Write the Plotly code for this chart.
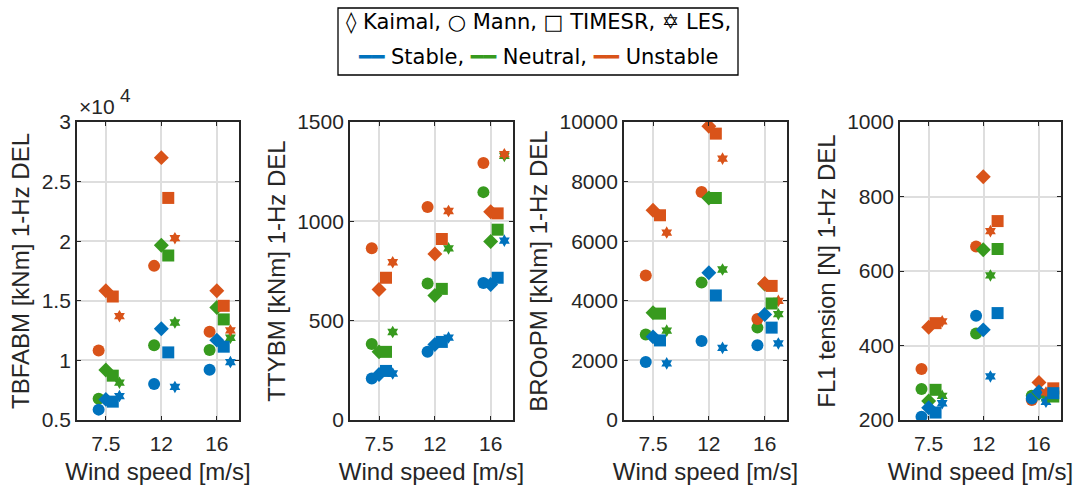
import plotly.graph_objects as go

# ---------------- data ----------------
WIND_SPEEDS = ["7.5", "12", "16"]
MODELS = ["Kaimal", "Mann", "TIMESR", "LES"]
STABILITIES = ["Stable", "Neutral", "Unstable"]

# TBFABM [kNm] 1-Hz DEL
TBFABM_STABLE = {"Kaimal": [6730, 12650, 11700], "Mann": [5870, 8020, 9220],
                 "TIMESR": [6540, 10670, 11150], "LES": [7010, 7770, 9860]}
TBFABM_NEUTRAL = {"Kaimal": [9190, 19660, 14440], "Mann": [6790, 11280, 10870],
                  "TIMESR": [8720, 18800, 13440], "LES": [8130, 13180, 11900]}
TBFABM_UNSTABLE = {"Kaimal": [15840, 27010, 15840], "Mann": [10840, 17930, 12400],
                   "TIMESR": [15360, 23630, 14580], "LES": [13710, 20250, 12510]}

# TTYBM [kNm] 1-Hz DEL
TTYBM_STABLE = {"Kaimal": [229, 380, 682], "Mann": [209, 343, 690],
                "TIMESR": [247, 393, 716], "LES": [234, 415, 903]}
TTYBM_NEUTRAL = {"Kaimal": [343, 627, 898], "Mann": [383, 687, 1147],
                 "TIMESR": [343, 660, 958], "LES": [443, 864, 1329]}
TTYBM_UNSTABLE = {"Kaimal": [657, 836, 1048], "Mann": [864, 1072, 1294],
                  "TIMESR": [716, 911, 1040], "LES": [794, 1052, 1338]}

# BROoPM [kNm] 1-Hz DEL
BROOPM_STABLE = {"Kaimal": [2790, 4940, 3540], "Mann": [1950, 2650, 2510],
                 "TIMESR": [2670, 4180, 3100], "LES": [1900, 2420, 2570]}
BROOPM_NEUTRAL = {"Kaimal": [3600, 7450, 4560], "Mann": [2870, 4610, 3100],
                  "TIMESR": [3570, 7450, 3910], "LES": [3000, 5050, 3550]}
BROOPM_UNSTABLE = {"Kaimal": [7040, 9860, 4580], "Mann": [4850, 7650, 3390],
                   "TIMESR": [6870, 9610, 4500], "LES": [6290, 8770, 4000]}

# FL1 tension [N] 1-Hz DEL
FL1_STABLE = {"Kaimal": [233, 442, 276], "Mann": [209, 480, 258],
              "TIMESR": [220, 487, 272], "LES": [245, 317, 249]}
FL1_NEUTRAL = {"Kaimal": [251, 657, 272], "Mann": [283, 432, 265],
               "TIMESR": [281, 659, 263], "LES": [265, 588, 258]}
FL1_UNSTABLE = {"Kaimal": [449, 853, 301], "Mann": [337, 666, 254],
                "TIMESR": [460, 734, 285], "LES": [465, 707, 274]}

Y_TITLES = ["TBFABM [kNm] 1-Hz DEL", "TTYBM [kNm] 1-Hz DEL",
            "BROoPM [kNm] 1-Hz DEL", "FL1 tension [N] 1-Hz DEL"]
Y_TICKS_1 = [5000, 10000, 15000, 20000, 25000, 30000]
Y_TICKTEXT_1 = ["0.5", "1", "1.5", "2", "2.5", "3"]
Y_TICKS_2 = [0, 500, 1000, 1500]
Y_TICKS_3 = [0, 2000, 4000, 6000, 8000, 10000]
Y_TICKS_4 = [200, 400, 600, 800, 1000]

# ---------------- styling ----------------
COLORS = {"Stable": "#0072BD", "Neutral": "#379A1E", "Unstable": "#D95319"}
SYMBOLS = {"Kaimal": "diamond", "Mann": "circle", "TIMESR": "square", "LES": "hexagram"}
SIZES = {"Kaimal": 11.5, "Mann": 12, "TIMESR": 12, "LES": 9.5}
OFF_DEFAULT = {"Mann": -0.13, "Kaimal": 0.0, "TIMESR": 0.125, "LES": 0.245}
OFF_FL1 = [OFF_DEFAULT,
           {"Mann": -0.14, "Kaimal": -0.01, "TIMESR": 0.25, "LES": 0.12},
           {"Mann": -0.13, "Kaimal": 0.0, "TIMESR": 0.26, "LES": 0.127}]

panels = [
    dict(data={"Stable": TBFABM_STABLE, "Neutral": TBFABM_NEUTRAL, "Unstable": TBFABM_UNSTABLE},
         yr=[5000, 30000], tv=Y_TICKS_1, tt=Y_TICKTEXT_1, offs=[OFF_DEFAULT] * 3),
    dict(data={"Stable": TTYBM_STABLE, "Neutral": TTYBM_NEUTRAL, "Unstable": TTYBM_UNSTABLE},
         yr=[0, 1500], tv=Y_TICKS_2, tt=[str(v) for v in Y_TICKS_2], offs=[OFF_DEFAULT] * 3),
    dict(data={"Stable": BROOPM_STABLE, "Neutral": BROOPM_NEUTRAL, "Unstable": BROOPM_UNSTABLE},
         yr=[0, 10000], tv=Y_TICKS_3, tt=[str(v) for v in Y_TICKS_3], offs=[OFF_DEFAULT] * 3),
    dict(data={"Stable": FL1_STABLE, "Neutral": FL1_NEUTRAL, "Unstable": FL1_UNSTABLE},
         yr=[200, 1000], tv=Y_TICKS_4, tt=[str(v) for v in Y_TICKS_4], offs=OFF_FL1),
]

W, H = 1078, 487
X_DOMAINS_PX = [(77, 239), (350, 513), (624, 787), (900, 1061)]
Y_DOMAIN = [1 - 420 / H, 1 - 122 / H]

TXT = "#262626"
FONT = "Liberation Sans, Arial, Helvetica, sans-serif"

fig = go.Figure()
PLOT_ORDER_MODELS = ["Mann", "Kaimal", "LES", "TIMESR"]
PLOT_ORDER_STAB = ["Neutral", "Unstable", "Stable"]

for i, p in enumerate(panels):
    ax = "" if i == 0 else str(i + 1)
    for m in PLOT_ORDER_MODELS:
        for s in PLOT_ORDER_STAB:
            vals = p["data"][s][m]
            xs = [k + 1 + p["offs"][k][m] for k in range(len(WIND_SPEEDS))]
            fig.add_trace(go.Scatter(
                x=xs, y=vals, mode="markers", name=f"{m}, {s}",
                xaxis="x" + ax, yaxis="y" + ax, showlegend=False,
                marker=dict(symbol=SYMBOLS[m], size=SIZES[m], color=COLORS[s],
                            line=dict(width=0)),
                hovertemplate=f"{m}, {s}<br>%{{y}}<extra></extra>"))
    x0, x1 = X_DOMAINS_PX[i]
    common = dict(showline=True, linecolor=TXT, linewidth=1.8, mirror="ticks",
                  ticks="inside", ticklen=4, tickwidth=1.4, tickcolor=TXT,
                  showgrid=True, gridcolor="#DEDEDE", gridwidth=1.6, zeroline=False,
                  automargin=False,
                  tickfont=dict(family=FONT, size=21, color=TXT))
    fig.update_layout(**{
        "xaxis" + ax: dict(common, domain=[x0 / W, x1 / W], anchor="y" + ax,
                           range=[0.48, 3.4], tickvals=[1, 2, 3], ticktext=WIND_SPEEDS,
                           ticklabelstandoff=4,
                           title=dict(text="Wind speed [m/s]", standoff=9,
                                      font=dict(family=FONT, size=24, color=TXT))),
        "yaxis" + ax: dict(common, domain=Y_DOMAIN, anchor="x" + ax,
                           range=p["yr"], tickvals=p["tv"], ticktext=p["tt"],
                           title=dict(text=Y_TITLES[i], standoff=5,
                                      font=dict(family=FONT, size=24, color=TXT))),
    })

# x10^4 multiplier of first panel (MATLAB style: exponent almost full size)
fig.add_annotation(xref="paper", yref="paper", x=77 / W, y=1 - 120 / H,
                   xanchor="left", yanchor="bottom", showarrow=False,
                   text="×10", font=dict(family=FONT, size=21, color=TXT))
fig.add_annotation(xref="paper", yref="paper", x=118 / W, y=1 - 108 / H,
                   xanchor="left", yanchor="bottom", showarrow=False,
                   text="4", font=dict(family=FONT, size=19, color=TXT))

# custom legend box
LFONT = "DejaVu Sans, sans-serif"
fig.add_shape(type="rect", xref="paper", yref="paper",
              x0=338 / W, x1=738 / W, y0=1 - 75 / H, y1=1 - 8 / H,
              line=dict(color="black", width=1.3), fillcolor="white")
row1 = "◊ Kaimal, ○ Mann, □ TIMESR, ✡ LES,"
row2 = ", ".join(f"<span style='color:{COLORS[s]}'><b>━━</b></span> {s}" for s in STABILITIES)
fig.add_annotation(xref="paper", yref="paper", x=538 / W, y=1 - 22 / H,
                   xanchor="center", yanchor="middle", showarrow=False,
                   text=row1, font=dict(family=LFONT, size=21, color="black"))
fig.add_annotation(xref="paper", yref="paper", x=538 / W, y=1 - 57 / H,
                   xanchor="center", yanchor="middle", showarrow=False,
                   text=row2, font=dict(family=LFONT, size=21, color="black"))

fig.update_layout(width=W, height=H,
                  margin=dict(l=0, r=0, t=0, b=0, autoexpand=False),
                  paper_bgcolor="white", plot_bgcolor="white", showlegend=False)

fig.write_html("out.html")
